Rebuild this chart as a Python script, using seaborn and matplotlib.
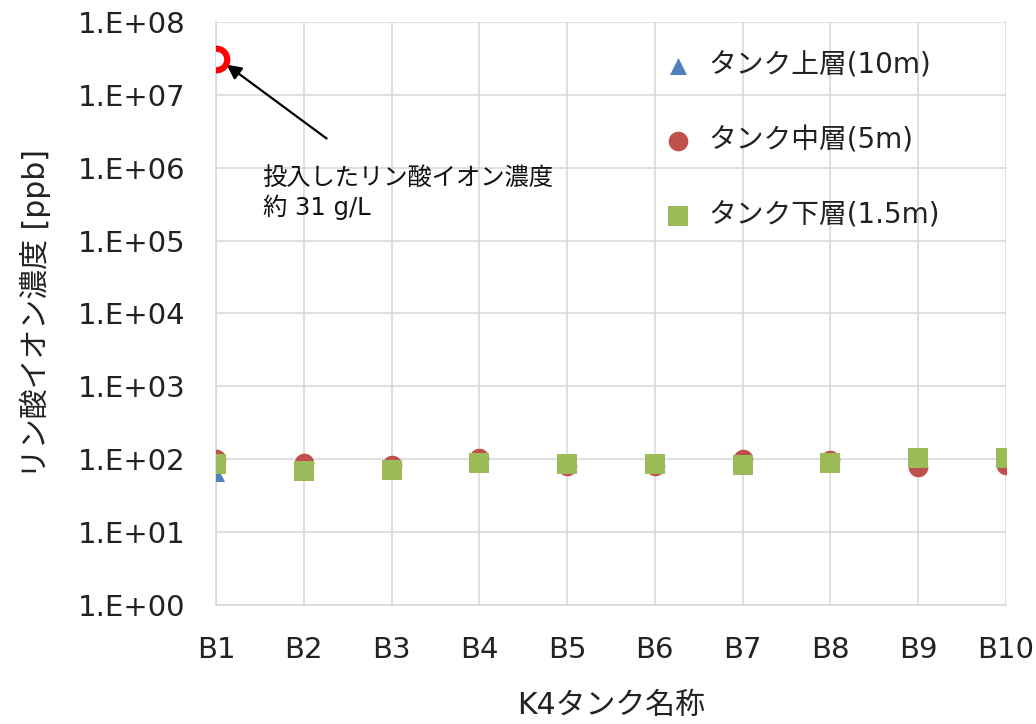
import seaborn as sns
import matplotlib.pyplot as plt
import pandas as pd
import numpy as np

tanks = ["B1", "B2", "B3", "B4", "B5", "B6", "B7", "B8", "B9", "B10"]
upper = [65, 68, 71, 86, 84, 84, 83, 86, 102, 102]
middle = [100, 89, 84, 105, 82, 82, 100, 98, 78, 84]
lower = [85, 69, 72, 88, 85, 85, 84, 88, 104, 104]
layers = ["タンク上層(10m)", "タンク中層(5m)", "タンク下層(1.5m)"]
dose_tank = "B1"
dose_value = 3.1e7
ytick_labels = ["1.E+00", "1.E+01", "1.E+02", "1.E+03", "1.E+04",
                "1.E+05", "1.E+06", "1.E+07", "1.E+08"]

df = pd.DataFrame({
    "tank": tanks * 3,
    "layer": np.repeat(layers, len(tanks)),
    "value": upper + middle + lower,
})

sns.set_theme(style="white")
plt.rcParams['font.family'] = ['DejaVu Sans', 'Noto Sans CJK JP']

fig = plt.figure(figsize=(10.36, 7.24), dpi=100)
ax = fig.add_axes([0.2085, 0.1644, 0.7625, 0.8052])

colors = {layers[0]: "#4F81BD", layers[1]: "#C0504D", layers[2]: "#9BBB59"}
markers = {layers[0]: "^", layers[1]: "o", layers[2]: "s"}
sizes = {layers[0]: 150, layers[1]: 200, layers[2]: 190}
for lay in layers:
    sub = df[df["layer"] == lay]
    sns.scatterplot(data=sub, x="tank", y="value", color=colors[lay],
                    marker=markers[lay], s=sizes[lay], linewidth=0,
                    label=lay, ax=ax, zorder=3)

# dosed concentration marker
ax.scatter([tanks.index(dose_tank)], [dose_value], s=240, facecolor="white",
           edgecolor="#FF0000", linewidth=4.5, zorder=4)

ax.annotate("投入したリン酸イオン濃度\n約 31 g/L", xy=(0.12, 2.6e7),
            xytext=(0.53, 1.9e5), fontsize=17.5, color="#111111",
            ha="left", va="bottom", linespacing=1.25,
            arrowprops=dict(arrowstyle="-|>", color="black", lw=1.6,
                            mutation_scale=22, shrinkA=0, shrinkB=0,
                            relpos=(0.22, 1.5)))

ax.set_yscale("log")
ax.set_ylim(1, 1e8)
ax.set_xlim(0, len(tanks) - 1)
ax.set_yticks([10.0 ** i for i in range(9)])
ax.set_yticklabels(ytick_labels, fontsize=21)
ax.minorticks_off()
ax.set_xticks(range(len(tanks)))
ax.set_xticklabels(tanks, fontsize=21)
ax.tick_params(axis="both", length=0, pad=22, colors="#222222")
ax.grid(True, color="#D9D9D9", lw=1.2)
for s in ["top", "right"]:
    ax.spines[s].set_visible(False)
for s in ["left", "bottom"]:
    ax.spines[s].set_color("#D9D9D9")
    ax.spines[s].set_linewidth(1.2)

ax.set_xlabel("K4タンク名称", fontsize=21.5, labelpad=20, color="#222222")
ax.set_ylabel("リン酸イオン濃度 [ppb]", fontsize=21.5, labelpad=19, color="#222222")

leg = ax.legend(loc="upper left", bbox_to_anchor=(0.535, 0.969), frameon=False,
                fontsize=20, labelspacing=1.7, handletextpad=0.1,
                markerscale=1.0, borderaxespad=0)
for t in leg.get_texts():
    t.set_color("#222222")

plt.savefig("out.png", dpi=100)
plt.close()
